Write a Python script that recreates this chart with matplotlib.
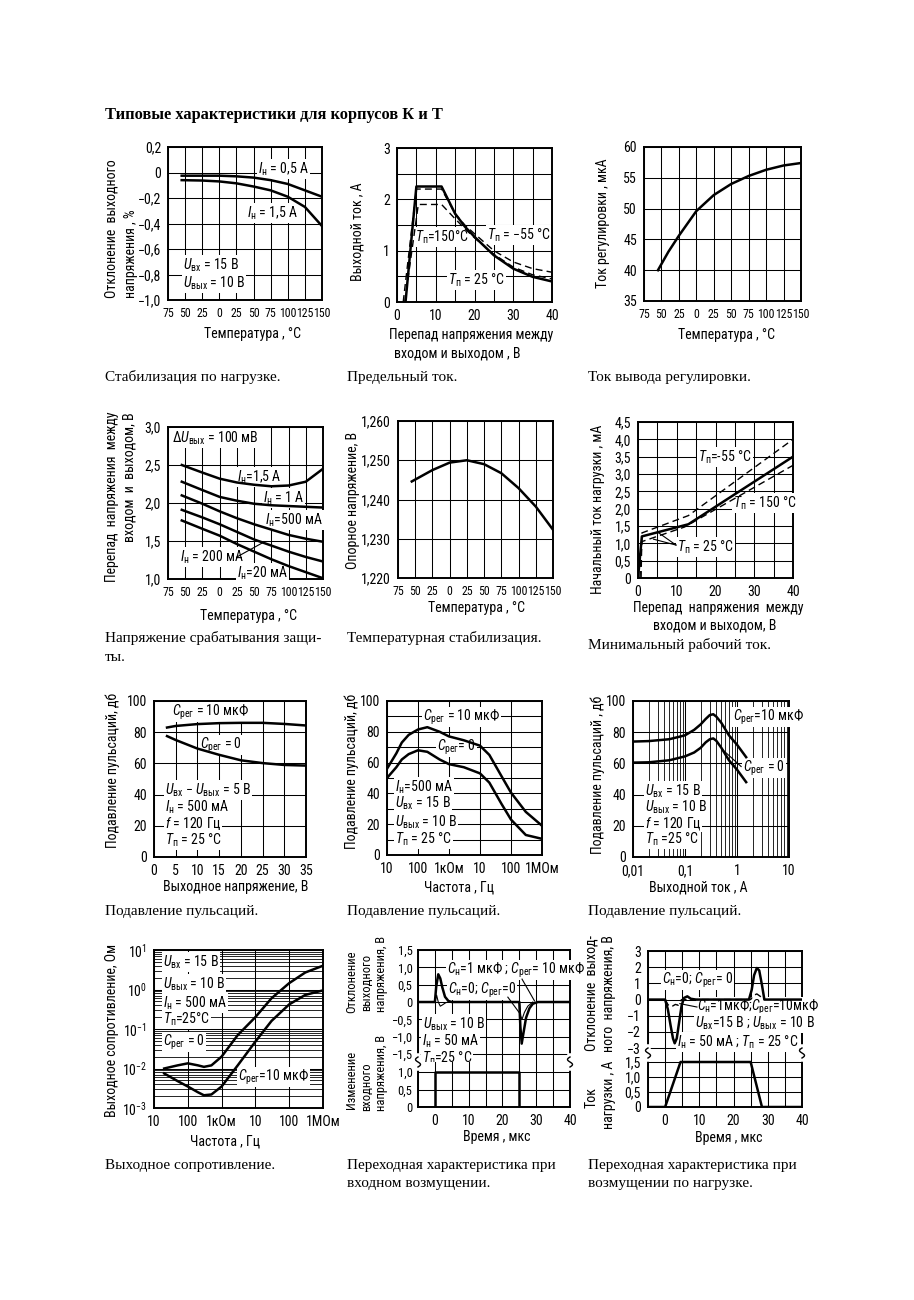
import matplotlib
matplotlib.use("Agg")
import matplotlib.pyplot as plt
from matplotlib import font_manager as fm
from matplotlib.lines import Line2D
from matplotlib.ticker import NullLocator, LogLocator, NullFormatter
import numpy as np

# ---------------- data ----------------
# Panel 1: load regulation
p1_temp = [-55, -25, 0, 25, 50, 75, 100, 125, 150]
p1_dev_05A = [-0.025, -0.025, -0.025, -0.03, -0.04, -0.06, -0.09, -0.14, -0.19]
p1_dev_15A = [-0.06, -0.063, -0.07, -0.085, -0.11, -0.14, -0.19, -0.27, -0.42]

# Panel 2: current limit
p2_v_25 = [2.2, 5, 11.5, 15, 17.5, 20, 25, 30, 35, 40]
p2_i_25 = [0, 2.25, 2.25, 1.72, 1.47, 1.27, 0.91, 0.65, 0.49, 0.40]
p2_v_m55 = [1.6, 5, 11.5, 15, 17.5, 20, 25, 30, 35, 40]
p2_i_m55 = [0, 2.2, 2.2, 1.72, 1.5, 1.33, 1.0, 0.78, 0.65, 0.58]
p2_v_150 = [2.0, 5.5, 11.5, 15, 17.5, 20, 25, 30, 35, 40]
p2_i_150 = [0, 1.9, 1.9, 1.62, 1.43, 1.25, 0.93, 0.68, 0.53, 0.45]

# Panel 3: adjustment pin current
p3_temp = [-55, -40, -25, -10, 0, 25, 50, 75, 100, 125, 150]
p3_i = [40, 43, 45.6, 48, 49.6, 52.2, 54, 55.3, 56.3, 57, 57.4]

# Panel 4: dropout voltage
p4_temp = [-55, -25, 0, 25, 50, 75, 100, 125, 150]
p4_15A = [2.5, 2.4, 2.32, 2.27, 2.24, 2.22, 2.23, 2.28, 2.45]
p4_1A = [2.28, 2.17, 2.08, 2.03, 1.99, 1.97, 1.96, 1.95, 1.94]
p4_500mA = [2.1, 1.99, 1.89, 1.8, 1.72, 1.65, 1.58, 1.53, 1.49]
p4_200mA = [1.91, 1.81, 1.72, 1.62, 1.52, 1.44, 1.36, 1.29, 1.23]
p4_20mA = [1.77, 1.66, 1.57, 1.46, 1.36, 1.26, 1.17, 1.09, 1.01]

# Panel 5: reference voltage
p5_temp = [-55, -25, 0, 25, 50, 75, 100, 125, 150]
p5_vref = [1.2446, 1.2475, 1.2494, 1.2500, 1.2490, 1.2467, 1.2429, 1.2382, 1.2323]

# Panel 6: minimum operating current
p6_v_25 = [0, 1, 13, 40]
p6_i_25 = [0, 1.2, 1.55, 3.5]
p6_v_m55 = [0.8, 1, 13, 40]
p6_i_m55 = [0, 1.3, 1.8, 4.0]
p6_v_150 = [0.5, 1, 12, 40]
p6_i_150 = [0, 1.05, 1.47, 3.25]

# Panel 7: ripple rejection vs output voltage
p7_vout = [3, 5, 10, 15, 20, 25, 30, 35]
p7_c10 = [83, 84, 85.2, 85.8, 86, 86, 85.3, 84.3]
p7_c0 = [77.5, 75, 69.5, 65.5, 62, 60.2, 59, 58.6]

# Panel 8: ripple rejection vs frequency
p8_freq = [10, 20, 30, 50, 100, 200, 500, 1e3, 3e3, 1e4, 2e4, 5e4, 1e5, 3e5, 1e6]
p8_c10 = [56, 66, 73, 78, 81.5, 83, 80, 77, 74.5, 71, 65, 51, 40.5, 28, 19]
p8_c0 = [50, 57, 62, 65.5, 68, 67, 62, 59, 57, 53, 47, 33, 23, 13, 10.5]

# Panel 9: ripple rejection vs output current
p9_iout = [0.01, 0.02, 0.05, 0.1, 0.15, 0.2, 0.25, 0.3, 0.35, 0.4, 0.5, 0.7, 1.0, 1.5]
p9_c10 = [74, 74.3, 75.5, 78, 81.5, 85, 88.5, 91, 91.5, 90, 86, 78, 72, 64]
p9_c0 = [60.5, 60.7, 62, 64.5, 67, 70, 73.5, 75.5, 76, 74.5, 70, 62, 56, 48]

# Panel 10: output impedance
p10_freq = [20, 50, 100, 200, 300, 500, 1e3, 3e3, 1e4, 3e4, 1e5, 3e5, 1e6]
p10_c0 = [0.010, 0.012, 0.0135, 0.012, 0.011, 0.012, 0.02, 0.07, 0.2, 0.6, 1.45, 2.7, 4.0]
p10_c10 = [0.0075, 0.0048, 0.0035, 0.0025, 0.0021, 0.0022, 0.0035, 0.012, 0.048, 0.16, 0.42, 0.73, 0.95]

# Panel 11: line transient
p11_t_c0 = [-5, 0, 0.4, 1, 1.6, 2.2, 3, 4, 5, 25, 25.3, 25.7, 26.3, 27, 28, 29, 30.5, 40]
p11_v_c0 = [0, 0, 0.45, 0.8, 0.68, 0.42, 0.15, 0.03, 0, 0, -0.7, -1.2, -0.85, -0.45, -0.18, -0.05, 0, 0]
p11_t_c1 = [0, 0.5, 1, 1.6, 2.3, 3.2, 4, 25, 25.4, 25.8, 26.5, 27.5, 29]
p11_v_c1 = [0, 0.2, 0.0, -0.12, -0.08, -0.02, 0, 0, -0.4, -0.5, -0.3, -0.12, 0]
p11_t_in = [-5, 0, 0, 25, 25, 40]
p11_v_in = [0, 0, 1, 1, 0, 0]

# Panel 12: load transient
p12_t_c0 = [-5, 0, 0.8, 1.6, 2.3, 2.8, 3.4, 4.1, 4.8, 5.5, 6.5, 7.5, 9, 24.5, 25.3, 26, 26.8, 27.5, 28.3, 29, 40]
p12_v_c0 = [0, 0, -0.6, -1.6, -2.4, -2.7, -2.4, -1.4, -0.4, 0.1, 0.2, 0.05, 0, 0, 0.6, 1.5, 1.95, 1.8, 0.9, 0, 0]
p12_t_c1 = [0, 0.8, 1.5, 2.2, 3, 3.8, 4.8, 25, 25.8, 26.8, 27.8, 28.6]
p12_v_c1 = [0, -0.3, -0.45, -0.4, -0.3, -0.35, 0, 0, 0.25, 0.35, 0.2, 0]
p12_t_load = [-5, 0, 4.5, 25, 28.3, 40]
p12_i_load = [0, 0, 1.5, 1.5, 0, 0]

temp_ticks = [-75, -50, -25, 0, 25, 50, 75, 100, 125, 150]
temp_labels = ["75", "50", "25", "0", "25", "50", "75", "100", "125", "150"]
freq_ticks = [10, 100, 1e3, 1e4, 1e5, 1e6]
freq_labels = ["10", "100", "1кОм", "10", "100", "1МОм"]

# ---------------- fonts ----------------
avail = {f.name for f in fm.fontManager.ttflist}
def pick(*names):
    for n in names:
        if n in avail:
            return n
    return "DejaVu Sans"
SANS = pick("Liberation Sans Narrow", "DejaVu Sans Condensed", "Roboto Condensed", "Liberation Sans")
SERIF = pick("Liberation Serif", "DejaVu Serif")
plt.rcParams["font.family"] = [SANS, "DejaVu Sans"]
plt.rcParams["mathtext.fontset"] = "custom"
plt.rcParams["mathtext.rm"] = SANS
plt.rcParams["mathtext.it"] = SANS + ":italic"
plt.rcParams["mathtext.bf"] = SANS + ":bold"

TICK = 10
TTICK = 8.6
LAB = 10
ANN = 10
CAP = 11

W, H = 914, 1300
fig = plt.figure(figsize=(W / 100, H / 100), dpi=100)
fig.patch.set_facecolor("white")


def add_ax(l, t, r, b):
    return fig.add_axes([l / W, 1 - b / H, (r - l) / W, (b - t) / H])


def ftext(x, y, s, **kw):
    fig.text(x / W, 1 - y / H, s, **kw)


def atext(ax, x, y, s, **kw):
    pos = ax.get_position()
    fx, fy = x / W, 1 - y / H
    opts = dict(ha="left", va="center", fontsize=ANN, zorder=4,
                bbox=dict(facecolor="white", edgecolor="none", pad=0.6))
    opts.update(kw)
    ax.text((fx - pos.x0) / pos.width, (fy - pos.y0) / pos.height, s,
            transform=ax.transAxes, clip_on=False, **opts)


def style(ax, xlim, ylim, xt, xl, yt, yl, xsize=TICK, ysize=TICK):
    ax.set_xlim(xlim)
    ax.set_ylim(ylim)
    ax.set_xticks(xt, xl)
    ax.set_yticks(yt, yl)
    ax.tick_params(which="both", length=0, pad=5, labelsize=TICK)
    ax.tick_params(axis="x", labelsize=xsize)
    ax.tick_params(axis="y", labelsize=ysize)
    ax.grid(True, which="major", color="k", lw=0.75)
    for sp in ax.spines.values():
        sp.set_linewidth(1.4)


def ylab(x, y, s, va="center", size=LAB):
    ftext(x, y, s, rotation=90, ha="center", va=va, fontsize=size)


def xlab(x, y, s):
    ftext(x, y, s, ha="center", va="center", fontsize=LAB)


SOL = dict(color="k", lw=1.8, zorder=5, solid_joinstyle="round")
DSH = dict(color="k", lw=1.0, zorder=5, dashes=(5, 3))
THN = dict(color="k", lw=0.8, zorder=5)

# ---------------- title ----------------
ftext(105, 115, "Типовые характеристики для корпусов К и Т", fontsize=11.8,
      fontweight="bold", family=SERIF, va="center")

# ---------------- panel 1 ----------------
ax = add_ax(168, 147, 322, 300)
yt = [0.2, 0, -0.2, -0.4, -0.6, -0.8, -1.0]
style(ax, (-75, 150), (-1.0, 0.2), temp_ticks, temp_labels, yt,
      ["0,2", "0", "−0,2", "−0,4", "−0,6", "−0,8", "−1,0"], xsize=TTICK)
ax.plot(p1_temp, p1_dev_05A, **SOL)
ax.plot(p1_temp, p1_dev_15A, **SOL)
atext(ax, 258, 169, r"$I_{\rm н}$ = 0,5 А")
atext(ax, 247, 213, r"$I_{\rm н}$ = 1,5 А")
atext(ax, 183, 265, r"$U_{\rm вх}$ = 15 В")
atext(ax, 183, 283, r"$U_{\rm вых}$ = 10 В")
ylab(112, 298, "Отклонение  выходного", va="bottom")
ylab(131, 298, "напряжения , %", va="bottom")
xlab(252, 334, "Температура , °С")
ftext(105, 377, "Стабилизация по нагрузке.", family=SERIF, fontsize=CAP, va="center")

# ---------------- panel 2 ----------------
ax = add_ax(397, 148, 552, 302)
style(ax, (0, 40), (0, 3), list(range(0, 41, 5)),
      ["0", "", "10", "", "20", "", "30", "", "40"],
      [0, 0.5, 1, 1.5, 2, 2.5, 3], ["0", "", "1", "", "2", "", "3"])
ax.plot(p2_v_m55, p2_i_m55, **DSH)
ax.plot(p2_v_150, p2_i_150, **DSH)
ax.plot(p2_v_25, p2_i_25, **SOL)
atext(ax, 415, 237, r"$T_{\rm п}$=150°С")
atext(ax, 487, 235, r"$T_{\rm п}$ = −55 °С")
atext(ax, 448, 280, r"$T_{\rm п}$ = 25 °С")
ylab(358, 232, "Выходной ток , А")
xlab(471, 335, "Перепад напряжения между")
xlab(457, 353, "входом и выходом , В")
ftext(347, 377, "Предельный ток.", family=SERIF, fontsize=CAP, va="center")

# ---------------- panel 3 ----------------
ax = add_ax(644, 147, 801, 301)
style(ax, (-75, 150), (35, 60), temp_ticks, temp_labels,
      [35, 40, 45, 50, 55, 60], ["35", "40", "45", "50", "55", "60"], xsize=TTICK)
ax.plot(p3_temp, p3_i, **SOL)
ylab(603, 223, "Ток регулировки , мкА")
xlab(726, 335, "Температура , °С")
ftext(588, 377, "Ток вывода регулировки.", family=SERIF, fontsize=CAP, va="center")

# ---------------- panel 4 ----------------
ax = add_ax(168, 427, 323, 579)
style(ax, (-75, 150), (1.0, 3.0), temp_ticks, temp_labels,
      [1.0, 1.5, 2.0, 2.5, 3.0], ["1,0", "1,5", "2,0", "2,5", "3,0"], xsize=TTICK)
for ser in (p4_15A, p4_1A, p4_500mA, p4_200mA, p4_20mA):
    ax.plot(p4_temp, ser, **SOL)
ax.plot([25, 63], [1.29, 1.48], **THN)
atext(ax, 172, 438, r"Δ$U_{\rm вых}$ = 100 мВ")
atext(ax, 237, 477, r"$I_{\rm н}$=1,5 А")
atext(ax, 263, 498, r"$I_{\rm н}$ = 1 А")
atext(ax, 265, 520, r"$I_{\rm н}$=500 мА")
atext(ax, 180, 557, r"$I_{\rm н}$ = 200 мА")
atext(ax, 237, 573, r"$I_{\rm н}$=20 мА")
ylab(112, 412, "Перепад  напряжения  между", va="top")
ylab(130, 412, "входом  и  выходом, В", va="top")
xlab(248, 616, "Температура , °С")
ftext(105, 638, "Напряжение срабатывания защи-", family=SERIF, fontsize=CAP, va="center")
ftext(105, 657, "ты.", family=SERIF, fontsize=CAP, va="center")

# ---------------- panel 5 ----------------
ax = add_ax(398, 421, 553, 578)
style(ax, (-75, 150), (1.220, 1.260), temp_ticks, temp_labels,
      [1.22, 1.23, 1.24, 1.25, 1.26], ["1,220", "1,230", "1,240", "1,250", "1,260"], xsize=TTICK)
ax.plot(p5_temp, p5_vref, **SOL)
ylab(353, 500, "Опорное напряжение, В")
xlab(476, 608, "Температура , °С")
ftext(347, 638, "Температурная стабилизация.", family=SERIF, fontsize=CAP, va="center")

# ---------------- panel 6 ----------------
ax = add_ax(638, 422, 793, 578)
yt6 = [0, 0.5, 1, 1.5, 2, 2.5, 3, 3.5, 4, 4.5]
style(ax, (0, 40), (0, 4.5), list(range(0, 41, 5)),
      ["0", "", "10", "", "20", "", "30", "", "40"],
      yt6, ["0", "0,5", "1,0", "1,5", "2,0", "2,5", "3,0", "3,5", "4,0", "4,5"])
ax.plot(p6_v_m55, p6_i_m55, **DSH)
ax.plot(p6_v_150, p6_i_150, **DSH)
ax.plot(p6_v_25, p6_i_25, **SOL)
ax.plot([5, 9.8], [1.33, 0.95], **THN)
ax.plot([4, 9.8], [1.12, 0.95], **THN)
atext(ax, 698, 457, r"$T_{\rm п}$=-55 °С")
atext(ax, 733, 503, r"$T_{\rm п}$ = 150 °С")
atext(ax, 677, 547, r"$T_{\rm п}$ = 25 °С")
ylab(598, 509, "Начальный ток нагрузки , мА")
xlab(718, 608, "Перепад  напряжения  между")
xlab(715, 625, "входом и выходом, В")
ftext(588, 645, "Минимальный рабочий ток.", family=SERIF, fontsize=CAP, va="center")

# ---------------- panel 7 ----------------
ax = add_ax(154, 701, 306, 857)
style(ax, (0, 35), (0, 100), list(range(0, 36, 5)),
      [str(v) for v in range(0, 36, 5)],
      [0, 20, 40, 60, 80, 100], ["0", "20", "40", "60", "80", "100"])
ax.plot(p7_vout, p7_c10, **SOL)
ax.plot(p7_vout, p7_c0, **SOL)
atext(ax, 172, 712, r"$C_{\rm рег}$ = 10 мкФ")
atext(ax, 200, 745, r"$C_{\rm рег}$ = 0")
atext(ax, 165, 790, r"$U_{\rm вх}$ − $U_{\rm вых}$ = 5 В")
atext(ax, 165, 807, r"$I_{\rm н}$ = 500 мА")
atext(ax, 165, 823, r"$f$ = 120 Гц")
atext(ax, 165, 840, r"$T_{\rm п}$ = 25 °С")
ylab(113, 770, "Подавление пульсаций, дб")
xlab(236, 887, "Выходное напряжение, В")
ftext(105, 912, "Подавление пульсаций.", family=SERIF, fontsize=CAP, va="center")

# ---------------- panel 8 ----------------
ax = add_ax(387, 701, 542, 855)
ax.set_xscale("log")
style(ax, (10, 1e6), (0, 100), freq_ticks, freq_labels,
      list(range(0, 101, 10)),
      ["0", "", "20", "", "40", "", "60", "", "80", "", "100"])
ax.xaxis.set_minor_locator(NullLocator())
ax.plot(p8_freq, p8_c10, **SOL)
ax.plot(p8_freq, p8_c0, **SOL)
atext(ax, 423, 717, r"$C_{\rm рег}$ = 10 мкФ")
atext(ax, 437, 747, r"$C_{\rm рег}$= 0")
atext(ax, 395, 787, r"$I_{\rm н}$=500 мА")
atext(ax, 395, 803, r"$U_{\rm вх}$ = 15 В")
atext(ax, 395, 822, r"$U_{\rm вых}$ = 10 В")
atext(ax, 395, 839, r"$T_{\rm п}$ = 25 °С")
ylab(352, 771, "Подавление пульсаций, дб")
xlab(459, 887, "Частота , Гц")
ftext(347, 912, "Подавление пульсаций.", family=SERIF, fontsize=CAP, va="center")

# ---------------- panel 9 ----------------
ax = add_ax(633, 701, 789, 857)
ax.set_xscale("log")
style(ax, (0.01, 10), (0, 100), [0.01, 0.1, 1, 10], ["0,01", "0,1", "1", "10"],
      [0, 20, 40, 60, 80, 100], ["0", "20", "40", "60", "80", "100"])
ax.xaxis.set_minor_locator(LogLocator(base=10, subs=np.arange(2, 10)))
ax.xaxis.set_minor_formatter(NullFormatter())
ax.grid(True, which="minor", axis="x", color="k", lw=0.6)
ax.plot(p9_iout, p9_c10, **SOL)
ax.plot(p9_iout, p9_c0, **SOL)
ax.plot([0.52, 1.2], [69, 58], **THN)
atext(ax, 733, 717, r"$C_{\rm рег}$=10 мкФ")
atext(ax, 743, 768, r"$C_{\rm рег}$ = 0")
atext(ax, 645, 791, r"$U_{\rm вх}$ = 15 В")
atext(ax, 645, 807, r"$U_{\rm вых}$ = 10 В")
atext(ax, 645, 823, r"$f$ = 120 Гц")
atext(ax, 645, 839, r"$T_{\rm п}$ =25 °С")
ylab(598, 775, "Подавление пульсаций , дб")
xlab(698, 887, "Выходной ток , А")
ftext(588, 912, "Подавление пульсаций.", family=SERIF, fontsize=CAP, va="center")

# ---------------- panel 10 ----------------
ax = add_ax(154, 950, 323, 1108)
ax.set_xscale("log")
ax.set_yscale("log")
style(ax, (10, 1e6), (1e-3, 10), freq_ticks, freq_labels,
      [1e-3, 1e-2, 1e-1, 1, 10],
      [r"$10^{-3}$", r"$10^{-2}$", r"$10^{-1}$", r"$10^{0}$", r"$10^{1}$"])
ax.xaxis.set_minor_locator(NullLocator())
ax.yaxis.set_minor_locator(LogLocator(base=10, subs=np.arange(2, 10)))
ax.yaxis.set_minor_formatter(NullFormatter())
ax.grid(True, which="minor", axis="y", color="k", lw=0.6)
ax.plot(p10_freq, p10_c0, **SOL)
ax.plot(p10_freq, p10_c10, **SOL)
atext(ax, 163, 962, r"$U_{\rm вх}$ = 15 В")
atext(ax, 163, 984, r"$U_{\rm вых}$ = 10 В")
atext(ax, 163, 1003, r"$I_{\rm н}$ = 500 мА")
atext(ax, 163, 1019, r"$T_{\rm п}$=25°С")
atext(ax, 163, 1042, r"$C_{\rm рег}$ = 0")
atext(ax, 238, 1077, r"$C_{\rm рег}$=10 мкФ")
ylab(112, 1030, "Выходное сопротивление, Ом")
xlab(225, 1142, "Частота , Гц")
ftext(105, 1166, "Выходное сопротивление.", family=SERIF, fontsize=CAP, va="center")


def squiggle(x, y):
    t = np.linspace(-1, 1, 30)
    xs = (x + 2.5 * np.sin(np.pi * t)) / W
    ys = 1 - (y + 5 * t) / H
    fig.add_artist(Line2D([x / W, x / W], [1 - (y - 6) / H, 1 - (y + 6) / H],
                          color="white", lw=4, transform=fig.transFigure, zorder=10))
    fig.add_artist(Line2D(xs, ys, color="k", lw=1.0, transform=fig.transFigure, zorder=11))


def split_style(axu, axl):
    axu.spines["bottom"].set_visible(False)
    axl.spines["top"].set_visible(False)
    axu.tick_params(labelbottom=False)

# ---------------- panel 11 ----------------
xt11 = list(range(-5, 41, 5))
xl11 = ["", "0", "", "10", "", "20", "", "30", "", "40"]
axu = add_ax(418, 950, 570, 1062)
style(axu, (-5, 40), (-1.73, 1.5), xt11, xl11,
      [1.5, 1.0, 0.5, 0, -0.5, -1.0, -1.5],
      ["1,5", "1,0", "0,5", "0", "−0,5", "−1,0", "−1,5"], ysize=9)
axu.tick_params(axis="y", pad=4)
axl = add_ax(418, 1062, 570, 1107)
style(axl, (-5, 40), (0, 1.286), xt11, xl11, [0, 0.5, 1.0], ["0", "0,5", "1,0"], ysize=9)
axl.tick_params(axis="y", pad=4)
split_style(axu, axl)
axu.plot(p11_t_c1, p11_v_c1, **THN)
axu.plot(p11_t_c0, p11_v_c0, **SOL)
axu.plot([25.8, 29.5], [0.66, 0.03], **THN)
axu.plot([21.6, 25.3], [0.14, -0.35], **THN)
axl.plot(p11_t_in, p11_v_in, **SOL)
atext(axu, 447, 970, r"$C_{\rm н}$=1 мкФ ; $C_{\rm рег}$= 10 мкФ")
atext(axu, 448, 990, r"$C_{\rm н}$=0; $C_{\rm рег}$=0")
atext(axu, 423, 1024, r"$U_{\rm вых}$ = 10 В")
atext(axu, 422, 1041, r"$I_{\rm н}$ = 50 мА")
atext(axu, 422, 1058, r"$T_{\rm п}$=25 °С")
squiggle(418, 1062)
squiggle(570, 1062)
ylab(352, 982, "Отклонение", size=9)
ylab(367, 982, "выходного", size=9)
ylab(381, 974, "напряжения, В", size=9)
ylab(352, 1080, "Изменение", size=9)
ylab(367, 1087, "входного", size=9)
ylab(381, 1073, "напряжения, В", size=9)
xlab(497, 1137, "Время , мкс")
ftext(347, 1166, "Переходная характеристика при", family=SERIF, fontsize=CAP, va="center")
ftext(347, 1183, "входном возмущении.", family=SERIF, fontsize=CAP, va="center")

# ---------------- panel 12 ----------------
axu = add_ax(648, 951, 802, 1053)
style(axu, (-5, 40), (-3.3, 3), xt11, xl11,
      [3, 2, 1, 0, -1, -2, -3], ["3", "2", "1", "0", "−1", "−2", "−3"])
axl = add_ax(648, 1053, 802, 1107)
style(axl, (-5, 40), (0, 1.8), xt11, xl11, [0, 0.5, 1.0, 1.5], ["0", "0,5", "1,0", "1,5"])
split_style(axu, axl)
axu.plot(p12_t_c1, p12_v_c1, **DSH)
axu.plot(p12_t_c0, p12_v_c0, **SOL)
axu.plot([4.3, 9.3], [-0.25, -0.46], **THN)
axl.plot(p12_t_load, p12_i_load, **SOL)
atext(axu, 662, 980, r"$C_{\rm н}$=0; $C_{\rm рег}$= 0")
atext(axu, 697, 1007, r"$C_{\rm н}$=1мкФ;$C_{\rm рег}$=10мкФ")
atext(axu, 695, 1023, r"$U_{\rm вх}$=15 В ; $U_{\rm вых}$ = 10 В")
atext(axu, 677, 1042, r"$I_{\rm н}$ = 50 мА ; $T_{\rm п}$ = 25 °С")
squiggle(648, 1053)
squiggle(802, 1053)
ylab(592, 935, "Отклонение  выход-", va="top")
ylab(609, 935, "ного  напряжения, В", va="top")
ylab(592, 1098, "Ток")
ylab(609, 1095, "нагрузки , А")
xlab(729, 1138, "Время , мкс")
ftext(588, 1166, "Переходная характеристика при", family=SERIF, fontsize=CAP, va="center")
ftext(588, 1183, "возмущении по нагрузке.", family=SERIF, fontsize=CAP, va="center")

fig.savefig("out.png", dpi=100, facecolor="white")
